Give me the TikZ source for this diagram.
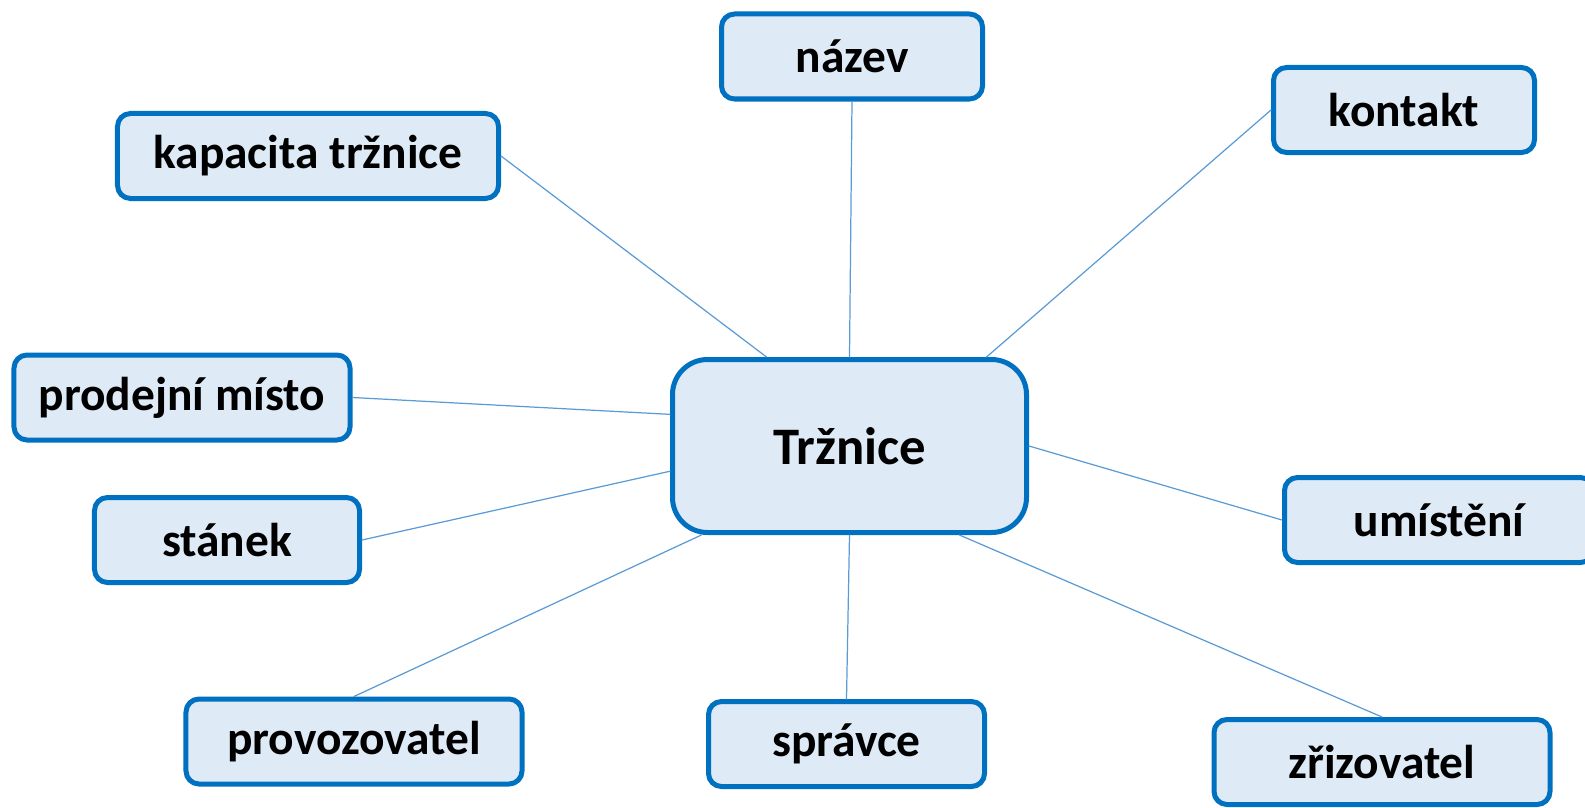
\documentclass[tikz,border=0pt]{standalone}
\usepackage{fontspec}
\setmainfont{Carlito}
\usepackage{tikz}
\usetikzlibrary{positioning}
\definecolor{boxblue}{HTML}{0070C0}
\definecolor{boxfill}{HTML}{DEEAF6}
\definecolor{linkblue}{HTML}{5B9BD5}
\tikzset{
  item/.style={draw=boxblue,fill=boxfill,line width=1mm,rounded corners=2.6mm,
    minimum height=17mm,inner sep=0pt,font=\fontsize{27}{32}\selectfont\bfseries},
  hub/.style={item,rounded corners=7mm,minimum width=70.8mm,minimum height=34.6mm,
    font=\fontsize{30}{36}\selectfont\bfseries},
  link/.style={draw=linkblue,line width=0.7pt}
}
\begin{document}
\begin{tikzpicture}[line cap=round,line join=round,x=0.2mm,y=-0.2mm]
\useasboundingbox (0,0) rectangle (1585,808);
\node [hub] (trznice) at (849.5,446) {Tržnice};
\node [item,minimum width=52.2mm] (nazev) at (852,56.5) {název};
\node [item,minimum width=52.2mm] (kontakt) at (1404,110) {kontakt};
\node [item,minimum width=76.2mm] (kapacita) at (308,156) {kapacita tržnice};
\node [item,minimum width=67.2mm] (prodejni) at (182,397.5) {prodejní místo};
\node [item,minimum width=53mm] (stanek) at (227,540) {stánek};
\node [item,minimum width=61.8mm] (umisteni) at (1439,520) {umístění};
\node [item,minimum width=67.2mm] (provozovatel) at (354,741.5) {provozovatel};
\node [item,minimum width=55.2mm] (spravce) at (846.5,744) {správce};
\node [item,minimum width=67.2mm] (zrizovatel) at (1382,762) {zřizovatel};
% spojnice
\draw [link] (trznice.north) -- (nazev.south);
\draw [link] (trznice.33) -- (kontakt.west);
\draw [link] (trznice.133) -- (kapacita.east);
\draw [link] (trznice.170) -- (prodejni.east);
\draw [link] (trznice.188) -- (stanek.east);
\draw [link] (trznice.east) -- (umisteni.west);
\draw [link] (trznice.211) -- (provozovatel.north);
\draw [link] (trznice.south) -- (spravce.north);
\draw [link] (trznice.321) -- (zrizovatel.north);
\end{tikzpicture}
\end{document}
